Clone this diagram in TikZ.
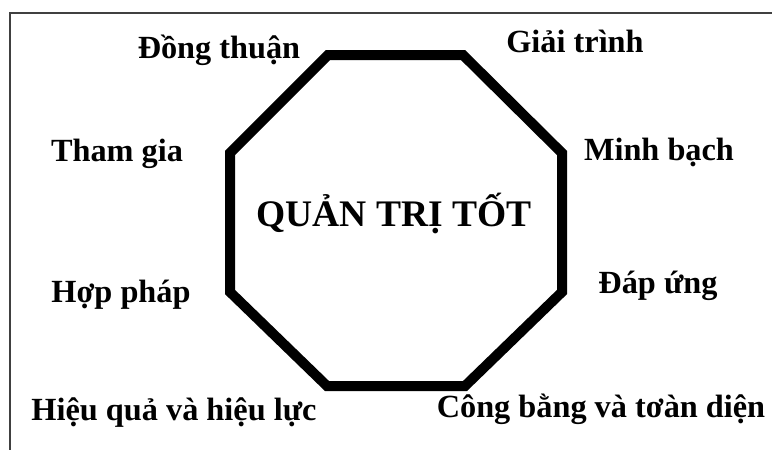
\documentclass[tikz,border=0pt]{standalone}
\usepackage{fontspec}
\setmainfont{Liberation Serif}
\begin{document}
\begin{tikzpicture}[x=1pt,y=-1pt,
  lbl/.style={font=\fontsize{32.3}{36}\selectfont\bfseries, inner sep=0pt, anchor=base},
  ctr/.style={font=\fontsize{37.5}{42}\selectfont\bfseries, inner sep=0pt, anchor=base},
  octo/.style={line width=10pt, line join=miter},
  frame/.style={line width=1.5pt, draw=black!75}]
\useasboundingbox (0,0) rectangle (772,450);
\draw[frame] (10,450) -- (10,13) -- (772,13);
\coordinate (v1) at (328,55);
\coordinate (v2) at (463,55);
\coordinate (v3) at (562,153);
\coordinate (v4) at (562,292);
\coordinate (v5) at (465,386);
\coordinate (v6) at (327,386);
\coordinate (v7) at (230,292);
\coordinate (v8) at (230,153);
\draw[octo] (v1) -- (v2) -- (v3) -- (v4) -- (v5) -- (v6) -- (v7) -- (v8) -- cycle;
\node[ctr] (center) at (394,226) {QUẢN TRỊ TỐT};
\node[lbl] (dong) at (219,58) {Đồng thuận};
\node[lbl] (giai) at (575,52) {Giải trình};
\node[lbl] (tham) at (117,161) {Tham gia};
\node[lbl] (minh) at (659,160) {Minh bạch};
\node[lbl] (hop) at (121,302) {Hợp pháp};
\node[lbl] (dap) at (658,293) {Đáp ứng};
\node[lbl] (hieu) at (174,420) {Hiệu quả và hiệu lực};
\node[lbl] (cong) at (601,417) {Công bằng và tơàn diện};
\end{tikzpicture}
\end{document}
